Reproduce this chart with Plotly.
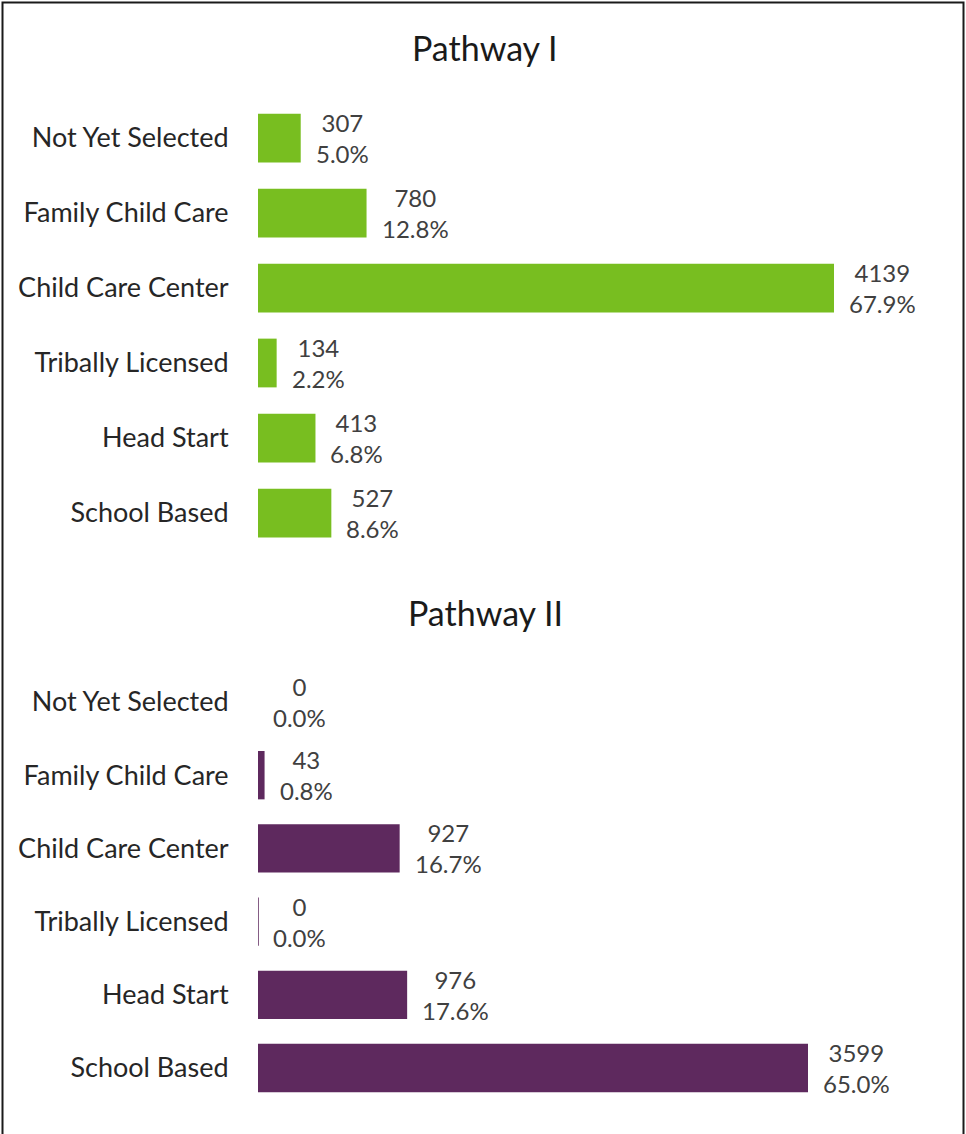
import plotly.graph_objects as go

categories = ["Not Yet Selected", "Family Child Care", "Child Care Center",
              "Tribally Licensed", "Head Start", "School Based"]
p1_counts = [307, 780, 4139, 134, 413, 527]
p1_pcts = ["5.0%", "12.8%", "67.9%", "2.2%", "6.8%", "8.6%"]
p2_counts = [0, 43, 927, 0, 976, 3599]
p2_pcts = ["0.0%", "0.8%", "16.7%", "0.0%", "17.6%", "65.0%"]
titles = ["Pathway I", "Pathway II"]

W, H = 966, 1134
FONT = "Lato"
GREEN = "#78BE20"
PURPLE = "#5E295E"

def px(x):
    return x / W

def py(y):
    return 1 - y / H

fig = go.Figure()

fig.add_trace(go.Bar(
    y=categories, x=p1_counts, orientation="h", width=0.65,
    marker=dict(color=GREEN, line=dict(width=0)),
    xaxis="x", yaxis="y", hoverinfo="skip", showlegend=False))

fig.add_trace(go.Bar(
    y=categories, x=p2_counts, orientation="h", width=0.66,
    marker=dict(color=PURPLE,
                line=dict(color=PURPLE,
                          width=[1.5 if (c == 0 and cat == "Tribally Licensed") else 0
                                 for c, cat in zip(p2_counts, categories)])),
    xaxis="x2", yaxis="y2", hoverinfo="skip", showlegend=False))

x_left, x_right = 258, 940
scale1 = (834 - 258) / 4139
scale2 = (808 - 258) / 3599
r1 = (x_right - x_left) / scale1
r2 = (x_right - x_left) / scale2

tickfont = dict(family=FONT, size=27, color="#262626")
common_x = dict(visible=False, showgrid=False, zeroline=False,
                domain=[px(x_left), px(x_right)])
common_y = dict(autorange="reversed", showgrid=False, zeroline=False,
                showline=False, ticks="outside", ticklen=23,
                tickcolor="rgba(0,0,0,0)", tickfont=tickfont)

annotations = []
for xref, yref, counts, pcts in [("x", "y", p1_counts, p1_pcts),
                                 ("x2", "y2", p2_counts, p2_pcts)]:
    for cat, c, p in zip(categories, counts, pcts):
        annotations.append(dict(
            x=c, y=cat, xref=xref, yref=yref, text=f"{c}<br>{p}",
            showarrow=False, xanchor="left", yanchor="middle", xshift=13,
            align="center", font=dict(family=FONT, size=24, color="#404040")))

for t, yc in zip(titles, [47, 612]):
    annotations.append(dict(
        x=px(485), y=py(yc), xref="paper", yref="paper", text=t,
        showarrow=False, xanchor="center", yanchor="middle",
        font=dict(family=FONT, size=34, color="#1a1a1a")))

fig.update_layout(
    width=W, height=H,
    margin=dict(l=0, r=0, t=0, b=0),
    paper_bgcolor="white", plot_bgcolor="white",
    xaxis=dict(range=[0, r1], anchor="y", **common_x),
    yaxis=dict(domain=[py(550.5), py(100.5)], anchor="x", **common_y),
    xaxis2=dict(range=[0, r2], anchor="y2", **common_x),
    yaxis2=dict(domain=[py(1104.6), py(665.4)], anchor="x2", **common_y),
    annotations=annotations,
    shapes=[dict(type="rect", xref="paper", yref="paper",
                 x0=px(2.5), x1=px(963.5), y0=py(1140), y1=py(2.5),
                 line=dict(color="#1a1a1a", width=2), fillcolor="rgba(0,0,0,0)")],
)

fig.write_html("out.html", config={"displayModeBar": False},
               post_script="document.body.style.margin='0';")
